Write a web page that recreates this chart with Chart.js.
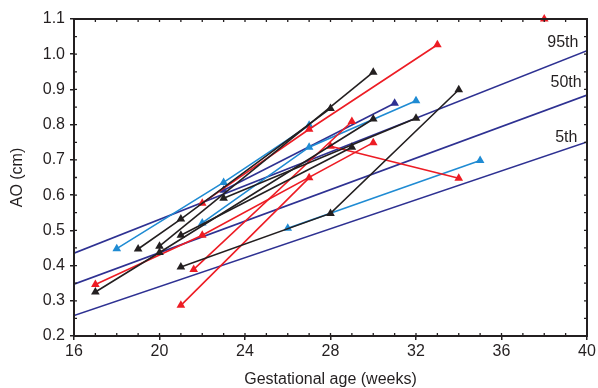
<!DOCTYPE html>
<html>
<head>
<meta charset="utf-8">
<script src="https://cdn.jsdelivr.net/npm/chart.js@4.4.1/dist/chart.umd.min.js"></script>
<style>
  html, body { margin: 0; padding: 0; background: #fff; }
  #wrap { width: 598px; height: 388px; }
</style>
</head>
<body>
<div id="wrap"><canvas id="aoChart"></canvas></div>
<script>
// data: [gestational age (weeks), AO (cm)]
const blackTracks = [
    [[17, 0.325], [20, 0.437], [30, 0.816]],
    [[19, 0.447], [21, 0.532], [28, 0.846]],
    [[20, 0.455], [30, 0.949]],
    [[21, 0.486], [29, 0.736]],
    [[23, 0.591], [32, 0.818]],
    [[21, 0.396], [28, 0.548], [34, 0.899]]
];
const redTracks = [
    [[17, 0.346], [22, 0.486], [30, 0.749]],
    [[22, 0.577], [27, 0.787], [33, 1.027]],
    [[21, 0.287], [27, 0.649]],
    [[21.6, 0.389], [29, 0.809]],
    [[28, 0.739], [34, 0.648]],
    [[38, 1.1]]
];
const lightBlueTracks = [
    [[18, 0.448], [23, 0.636], [27, 0.798]],
    [[22, 0.521], [27, 0.736], [32, 0.868]],
    [[26, 0.506], [35, 0.698]]
];
const darkBlueTracks = [
    [[23, 0.614], [31, 0.861]]
];

// reference percentile lines
const refWeeks = [16, 40];
const p95 = [0.435, 1.010];
const p50 = [0.347, 0.884];
const p5 = [0.258, 0.751];
const refNames = ['95th', '50th', '5th'];

const ink = '#231f20';
const font = '"Liberation Sans", Arial, sans-serif';

function track(points, colour) {
    return {
        data: points.map(p => ({ x: p[0], y: p[1] })),
        showLine: true,
        borderColor: colour,
        backgroundColor: colour,
        borderWidth: 1.6,
        pointStyle: 'triangle',
        pointRadius: 5,
        pointBorderWidth: 0,
        clip: false
    };
}

function refLine(vals) {
    return {
        data: refWeeks.map((w, i) => ({ x: w, y: vals[i] })),
        showLine: true,
        borderColor: '#2e3192',
        borderWidth: 1.6,
        pointRadius: 0
    };
}

const datasets = [
    ...blackTracks.map(t => track(t, ink)),
    ...redTracks.map(t => track(t, '#ed1c24')),
    ...lightBlueTracks.map(t => track(t, '#1f8bd3')),
    ...darkBlueTracks.map(t => track(t, '#2e3192')),
    refLine(p95), refLine(p50), refLine(p5)
];

// box round the plot, inward minor ticks and the percentile names
const framePlugin = {
    id: 'frame',
    afterDatasetsDraw(chart) {
        const { ctx, chartArea: a, scales } = chart;
        const xs = scales.x, ys = scales.y;
        ctx.save();
        ctx.strokeStyle = ink;
        ctx.lineWidth = 1.3;
        ctx.beginPath();
        for (let w = 16; w <= 40; w++) {
            const px = xs.getPixelForValue(w);
            ctx.moveTo(px, a.bottom); ctx.lineTo(px, a.bottom - 3);
            ctx.moveTo(px, a.top); ctx.lineTo(px, a.top + 3);
        }
        for (let k = 4; k <= 22; k++) {
            const py = ys.getPixelForValue(k * 0.05);
            ctx.moveTo(a.left, py); ctx.lineTo(a.left + 3, py);
            ctx.moveTo(a.right, py); ctx.lineTo(a.right - 3, py);
        }
        ctx.stroke();
        ctx.lineWidth = 2;
        ctx.strokeRect(a.left, a.top, a.right - a.left, a.bottom - a.top);

        ctx.fillStyle = ink;
        ctx.font = '16px ' + font;
        ctx.textAlign = 'right';
        ctx.textBaseline = 'middle';
        const spots = [[39.6, 1.033], [39.75, 0.919], [39.55, 0.762]];
        refNames.forEach((name, i) => {
            ctx.fillText(name, xs.getPixelForValue(spots[i][0]), ys.getPixelForValue(spots[i][1]));
        });
        ctx.restore();
    }
};

new Chart(document.getElementById('aoChart'), {
    type: 'scatter',
    data: { datasets: datasets },
    options: {
        responsive: true,
        maintainAspectRatio: false,
        animation: false,
        layout: { padding: { top: 19, right: 11, bottom: 0, left: 0 } },
        plugins: { legend: { display: false }, tooltip: { enabled: false } },
        scales: {
            x: {
                type: 'linear',
                min: 16, max: 40,
                afterFit: s => { s.height = 52; },
                border: { display: false },
                grid: { drawOnChartArea: false, drawTicks: true, tickLength: 4, color: ink, lineWidth: 1.5 },
                ticks: { stepSize: 4, padding: 2, color: ink, font: { family: font, size: 16 } },
                title: {
                    display: true, text: 'Gestational age (weeks)', color: ink,
                    font: { family: font, size: 16, lineHeight: 1 }, padding: { top: 0, bottom: 0 }
                }
            },
            y: {
                min: 0.2, max: 1.1,
                afterFit: s => { s.width = 74; },
                border: { display: false },
                grid: { drawOnChartArea: false, drawTicks: true, tickLength: 4, color: ink, lineWidth: 1.5 },
                ticks: {
                    stepSize: 0.1, padding: 5, color: ink, font: { family: font, size: 16 },
                    callback: v => v.toFixed(1)
                },
                title: {
                    display: true, text: 'AO (cm)', color: ink,
                    font: { family: font, size: 16 }, padding: { top: 8, bottom: 0 }
                }
            }
        }
    },
    plugins: [framePlugin]
});
</script>
</body>
</html>
